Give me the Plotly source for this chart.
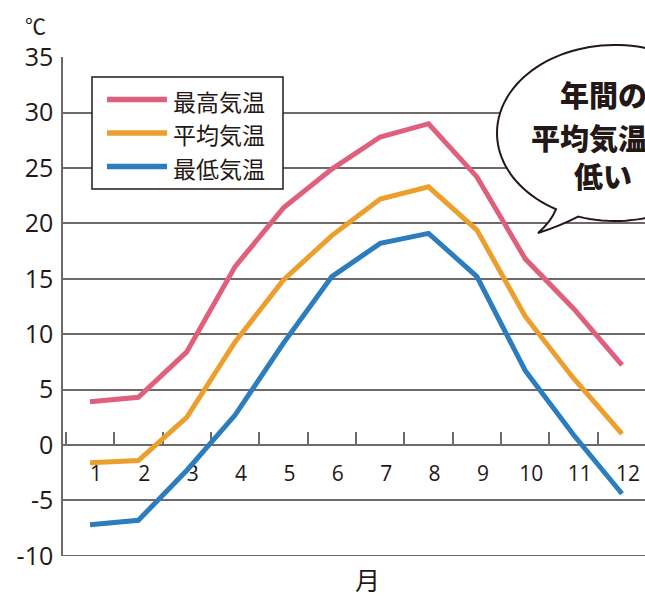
import numpy as np
import plotly.graph_objects as go

# ---- data ----
months = ["1", "2", "3", "4", "5", "6", "7", "8", "9", "10", "11", "12"]
series_names = ["最高気温", "平均気温", "最低気温"]
temp_max = [3.9, 4.3, 8.4, 16.1, 21.4, 24.9, 27.8, 29.0, 24.2, 16.8, 12.3, 7.2]
temp_avg = [-1.6, -1.4, 2.5, 9.3, 14.9, 18.9, 22.2, 23.3, 19.4, 11.6, 6.0, 1.0]
temp_min = [-7.2, -6.8, -2.3, 2.7, 9.2, 15.2, 18.2, 19.1, 15.2, 6.7, 0.9, -4.4]
colors = ["#DF607C", "#EC9F2D", "#2B7DBE"]
y_ticks = [-10, -5, 0, 5, 10, 15, 20, 25, 30, 35]
y_tick_text = ["-10", "-5", "0", "5", "10", "15", "20", "25", "30", "35"]
bubble_lines = ["年間の", "平均気温が", "低い"]

W, H = 645, 596
L, R, T, B = 63, 645, 57, 556
YMIN, YMAX = -10.02, 35.02
INK = "#231815"
GRID = "#6f6a69"
FONT = "Open Sans, Noto Sans CJK JP, sans-serif"
JFONT = "Noto Sans CJK JP, sans-serif"


def px(x):
    return (x - L) / (R - L)


def py(y):
    return (B - y) / (B - T)


fig = go.Figure()
for name, vals, col in zip(series_names, [temp_max, temp_avg, temp_min], colors):
    fig.add_trace(go.Scatter(x=months, y=vals, mode="lines", name=name,
                             line=dict(color=col, width=5), showlegend=False,
                             hoverinfo="skip"))

shapes = []
annotations = []

# bottom gridline (at the lowest tick)
shapes.append(dict(type="line", xref="paper", yref="y", x0=0, x1=1,
                   y0=y_ticks[0], y1=y_ticks[0],
                   line=dict(color=GRID, width=1.5), layer="below"))

# custom legend box
shapes.append(dict(type="rect", xref="paper", yref="paper",
                   x0=px(92), x1=px(283), y0=py(189), y1=py(77),
                   fillcolor="white", line=dict(color=INK, width=1.5), layer="above"))
for i, (name, col) in enumerate(zip(series_names, colors)):
    yy = 99.5 + i * 33.5
    shapes.append(dict(type="line", xref="paper", yref="paper",
                       x0=px(107), x1=px(167), y0=py(yy), y1=py(yy),
                       line=dict(color=col, width=5.5), layer="above"))
    annotations.append(dict(text=name, xref="paper", yref="paper",
                            x=px(171), y=py(yy + 1), xanchor="left", yanchor="middle",
                            showarrow=False, font=dict(family=JFONT, size=23, color=INK)))

# speech bubble
cx, cy, rx, ry = 615, 133, 118, 88
t = np.linspace(2.094, 1.889 + 2 * np.pi, 120)
ex = cx + rx * np.cos(t)
ey = cy + ry * np.sin(t)
path = "M {:.5f},{:.5f}".format(px(ex[0]), py(ey[0]))
for a, b in zip(ex[1:], ey[1:]):
    path += " L {:.5f},{:.5f}".format(px(a), py(b))
path += " Q {:.5f},{:.5f} {:.5f},{:.5f}".format(px(560), py(226), px(538), py(233))
path += " Q {:.5f},{:.5f} {:.5f},{:.5f} Z".format(px(551), py(222), px(ex[0]), py(ey[0]))
shapes.append(dict(type="path", xref="paper", yref="paper", path=path,
                   fillcolor="white", line=dict(color=INK, width=2), layer="above"))
for txt, yy in zip(bubble_lines, [94, 137, 175]):
    annotations.append(dict(text=txt, xref="paper", yref="paper", x=px(603), y=py(yy),
                            xanchor="center", yanchor="middle", showarrow=False,
                            font=dict(family=JFONT, size=29, color=INK, weight=900)))

# unit and axis title
annotations.append(dict(text="℃", xref="paper", yref="paper", x=px(35), y=py(25),
                        xanchor="center", yanchor="middle", showarrow=False,
                        font=dict(family=JFONT, size=21, color=INK)))
annotations.append(dict(text="月", xref="paper", yref="paper", x=px(367), y=py(579),
                        xanchor="center", yanchor="middle", showarrow=False,
                        font=dict(family=JFONT, size=25, color=INK)))

fig.update_layout(
    width=W, height=H,
    margin=dict(l=L, r=W - R, t=T, b=H - B),
    paper_bgcolor="white", plot_bgcolor="white",
    shapes=shapes, annotations=annotations,
    xaxis=dict(type="category", range=[-0.558, 11.475], anchor="free",
               position=(0 - YMIN) / (YMAX - YMIN),
               showgrid=False, zeroline=False, showline=True,
               linecolor=GRID, linewidth=1.5, ticks="inside", tickson="boundaries",
               ticklen=12, tickwidth=1.5, tickcolor=GRID, ticklabelstandoff=10,
               ticklabelshift=6, layer="below traces",
               tickfont=dict(family=FONT, size=21, color=INK)),
    yaxis=dict(range=[YMIN, YMAX], tickvals=y_ticks, ticktext=y_tick_text,
               showgrid=True, gridcolor=GRID, gridwidth=1.5, zeroline=False,
               showline=True, linecolor=GRID, linewidth=1.5, ticks="",
               ticklabelstandoff=3,
               tickfont=dict(family=FONT, size=25, color=INK)),
)

fig.write_html("out.html", config={"displayModeBar": False},
               post_script="document.body.style.margin='0';document.body.style.overflow='hidden';")
